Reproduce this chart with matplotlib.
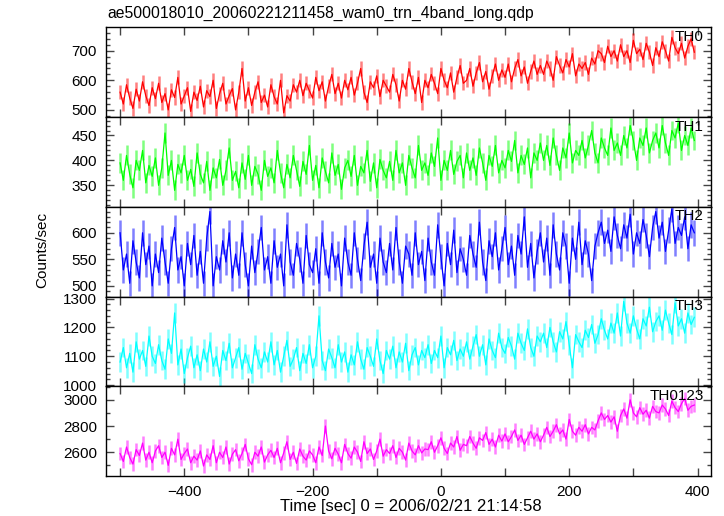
import numpy as np
import matplotlib
matplotlib.use("Agg")
import matplotlib.pyplot as plt
from matplotlib.ticker import MultipleLocator

plt.rcParams['font.family'] = ['Liberation Sans', 'DejaVu Sans']

# time grid (5 s samples, relative to 2006/02/21 21:14:58)
t_start, t_step, n_pts = -500, 5, 180

th0 = [560, 520, 585, 540, 505, 570, 530, 595, 548, 515, 575, 538,
       590, 525, 555, 500, 568, 542, 610, 520, 548, 575, 495, 560,
       532, 580, 510, 565, 545, 600, 505, 555, 590, 520, 548, 572,
       500, 560, 640, 530, 575, 515, 560, 595, 525, 550, 510, 585,
       545, 520, 600, 490, 548, 530, 585, 560, 600, 548, 590, 565,
       540, 610, 565, 595, 530, 580, 620, 555, 590, 540, 600, 568,
       610, 550, 590, 640, 560, 525, 595, 575, 615, 545, 600, 580,
       560, 620, 585, 530, 600, 570, 640, 595, 555, 610, 525, 600,
       575, 620, 590, 555, 640, 600, 575, 625, 560, 610, 650, 590,
       600, 640, 580, 625, 660, 595, 630, 570, 615, 655, 600, 635,
       610, 655, 595, 640, 670, 615, 645, 590, 630, 665, 620, 650,
       620, 665, 640, 600, 680, 650, 625, 670, 645, 690, 615, 655,
       640, 660, 620, 675, 655, 700, 690, 660, 715, 680, 700, 665,
       720, 680, 700, 660, 735, 690, 705, 670, 725, 695, 650, 710,
       680, 730, 700, 665, 745, 710, 690, 725, 675, 715, 740, 695]

th1 = [395, 360, 410, 372, 345, 400, 380, 420, 355, 390, 368, 405,
       350, 385, 455, 370, 400, 340, 392, 375, 410, 360, 382, 348,
       415, 372, 355, 398, 340, 385, 365, 402, 350, 380, 425, 360,
       378, 345, 395, 362, 410, 350, 388, 372, 340, 400, 368, 385,
       355, 420, 375, 345, 392, 365, 410, 380, 348, 398, 372, 430,
       360, 390, 345, 405, 378, 355, 415, 370, 392, 342, 385, 400,
       368, 410, 350, 388, 375, 420, 358, 395, 345, 402, 380, 365,
       398, 360, 420, 375, 395, 350, 410, 385, 365, 430, 380, 395,
       370, 415, 388, 445, 360, 400, 380, 420, 372, 398, 410, 365,
       415, 380, 405, 370, 425, 395, 360, 410, 388, 430, 375, 400,
       385, 420, 398, 440, 375, 410, 392, 425, 365, 415, 400, 435,
       400, 430, 390, 445, 410, 380, 425, 405, 455, 395, 420, 410,
       440, 405, 430, 460, 415, 395, 445, 425, 410, 465, 420, 435,
       410, 450, 425, 470, 440, 400, 445, 430, 465, 415, 440, 455,
       425, 470, 435, 410, 460, 445, 475, 420, 450, 430, 465, 440]

th2 = [600, 530, 560, 505, 585, 545, 515, 600, 540, 575, 500, 560,
       525, 590, 545, 505, 570, 610, 530, 555, 500, 580, 540, 595,
       520, 565, 505, 590, 640, 500, 555, 530, 585, 545, 600, 515,
       560, 520, 600, 540, 500, 575, 525, 565, 610, 530, 555, 505,
       585, 535, 560, 500, 615, 545, 520, 580, 550, 505, 595, 540,
       525, 570, 505, 600, 545, 515, 580, 535, 560, 500, 590, 545,
       520, 600, 550, 510, 575, 620, 535, 560, 505, 590, 545, 525,
       580, 530, 610, 545, 505, 575, 560, 520, 600, 540, 565, 510,
       590, 545, 520, 615, 555, 500, 580, 540, 605, 525, 570, 550,
       520, 595, 560, 535, 620, 545, 510, 585, 555, 600, 530, 570,
       610, 540, 575, 520, 595, 560, 630, 535, 580, 515, 565, 600,
       545, 590, 520, 615, 560, 530, 600, 575, 505, 590, 550, 620,
       540, 585, 560, 510, 575, 600, 620, 580, 605, 565, 630, 595,
       570, 615, 590, 635, 560, 600, 580, 625, 595, 555, 610, 640,
       590, 620, 565, 605, 645, 580, 610, 595, 630, 570, 615, 600]

th3 = [1080, 1130, 1060, 1110, 1045, 1150, 1090, 1120, 1065, 1170, 1100, 1075,
       1140, 1085, 1055, 1160, 1110, 1250, 1070, 1125, 1040, 1095, 1135, 1060,
       1105, 1050, 1125, 1080, 1150, 1065, 1100, 1030, 1120, 1085, 1145, 1060,
       1095, 1130, 1055, 1110, 1075, 1040, 1140, 1090, 1060, 1115, 1080, 1150,
       1070, 1120, 1045, 1100, 1155, 1065, 1090, 1130, 1050, 1110, 1075, 1140,
       1060, 1100, 1240, 1085, 1050, 1125, 1095, 1060, 1140, 1080, 1115, 1045,
       1105, 1070, 1150, 1090, 1055, 1130, 1100, 1065, 1160, 1085, 1040, 1120,
       1090, 1135, 1060, 1115, 1080, 1145, 1050, 1105, 1130, 1070, 1120, 1095,
       1140, 1075, 1120, 1095, 1170, 1060, 1130, 1105, 1155, 1085, 1125, 1100,
       1150, 1090, 1135, 1175, 1100, 1140, 1070, 1160, 1120, 1095, 1180, 1130,
       1110, 1165, 1135, 1090, 1180, 1145, 1120, 1195, 1130, 1100, 1170, 1150,
       1180, 1130, 1200, 1150, 1115, 1185, 1160, 1220, 1140, 1060, 1175, 1150,
       1130, 1190, 1165, 1210, 1145, 1175, 1230, 1190, 1160, 1215, 1180, 1250,
       1170, 1290, 1215, 1180, 1240, 1195, 1160, 1230, 1205, 1270, 1185, 1220,
       1240, 1190, 1260, 1215, 1175, 1285, 1205, 1230, 1180, 1250, 1210, 1235]

th0123 = [2590, 2530, 2640, 2560, 2510, 2620, 2575, 2670, 2540, 2600, 2520, 2610,
          2650, 2560, 2600, 2500, 2630, 2580, 2700, 2545, 2590, 2625, 2520, 2570,
          2540, 2610, 2495, 2580, 2545, 2650, 2520, 2600, 2560, 2640, 2510, 2585,
          2620, 2535, 2590, 2660, 2550, 2505, 2600, 2570, 2640, 2525, 2580, 2615,
          2560, 2630, 2520, 2595, 2680, 2545, 2600, 2515, 2625, 2570, 2540, 2610,
          2580, 2520, 2640, 2575, 2800, 2610, 2550, 2630, 2585, 2520, 2660, 2590,
          2555, 2640, 2600, 2530, 2680, 2590, 2625, 2545, 2610, 2700, 2570, 2620,
          2590, 2650, 2560, 2630, 2600, 2540, 2670, 2610, 2580, 2650, 2595, 2625,
          2620, 2680, 2600, 2650, 2710, 2630, 2590, 2670, 2640, 2720, 2615, 2660,
          2650, 2720, 2670, 2630, 2710, 2690, 2750, 2660, 2700, 2640, 2730, 2685,
          2740, 2680, 2720, 2770, 2690, 2730, 2660, 2710, 2760, 2700, 2740, 2680,
          2730, 2790, 2720, 2760, 2810, 2740, 2770, 2700, 2850, 2760, 2730, 2790,
          2760, 2810, 2740, 2790, 2770, 2840, 2900, 2850, 2880, 2830, 2870, 2760,
          2880, 2930, 2860, 3000, 2900, 2870, 2940, 2890, 2920, 2860, 2950, 2910,
          2900, 2960, 2930, 2880, 2990, 2940, 2910, 2970, 3010, 2920, 2950, 2960]

# typical 1-sigma error per band (counts/sec)
errs = [24, 20, 24, 34, 52]

bands = ["TH0", "TH1", "TH2", "TH3", "TH0123"]
series = [th0, th1, th2, th3, th0123]
colors = ["#ff0000", "#00ff00", "#0000ff", "#00ffff", "#ff00ff"]
ylims = [(476, 779), (307, 487), (480, 649), (996, 1307), (2419, 3103)]
major = [100, 50, 50, 100, 200]
minor = [20, 10, 10, 20, 100]

t = t_start + t_step * np.arange(n_pts)

fig = plt.figure(figsize=(7.24, 5.16), dpi=100)
W, H = 724, 516
left, right = 106, 711
top, bot = 27.3, 476
ph = (bot - top) / 5

for i in range(5):
    y0 = top + i * ph
    ax = fig.add_axes([left / W, 1 - (y0 + ph) / H, (right - left) / W, ph / H])
    y = np.array(series[i])
    ax.errorbar(t, y, yerr=errs[i], fmt='none', ecolor=colors[i], elinewidth=1.8,
                alpha=0.5, capsize=0)
    ax.plot(t, y, color=colors[i], lw=0.9)
    ax.set_xlim(-522, 421)
    ax.set_ylim(*ylims[i])
    ax.xaxis.set_major_locator(MultipleLocator(200))
    ax.xaxis.set_minor_locator(MultipleLocator(100))
    ax.yaxis.set_major_locator(MultipleLocator(major[i]))
    ax.yaxis.set_minor_locator(MultipleLocator(minor[i]))
    ax.tick_params(which='both', direction='in', top=True, right=True,
                   color='#444444', width=1, labelsize=11, pad=6.5)
    ax.tick_params(which='major', length=6)
    ax.tick_params(which='minor', length=3)
    ax.tick_params(axis='x', which='minor', length=6)
    for s in ax.spines.values():
        s.set_linewidth(1.0)
    ax.text(0.988, 0.97, bands[i], transform=ax.transAxes, ha='right', va='top',
            fontsize=11)
    if i < 4:
        ax.tick_params(axis='x', labelbottom=False)

fig.text(107 / W, 1 - 13 / H, "ae500018010_20060221211458_wam0_trn_4band_long.qdp",
         ha='left', va='center', fontsize=11.3)
fig.text(42 / W, 1 - 250 / H, "Counts/sec", rotation=90, ha='center', va='center',
         fontsize=11)
fig.text(411 / W, 1 - 507 / H, "Time [sec] 0 = 2006/02/21 21:14:58",
         ha='center', va='center', fontsize=12)

fig.savefig("out.png", dpi=100)
